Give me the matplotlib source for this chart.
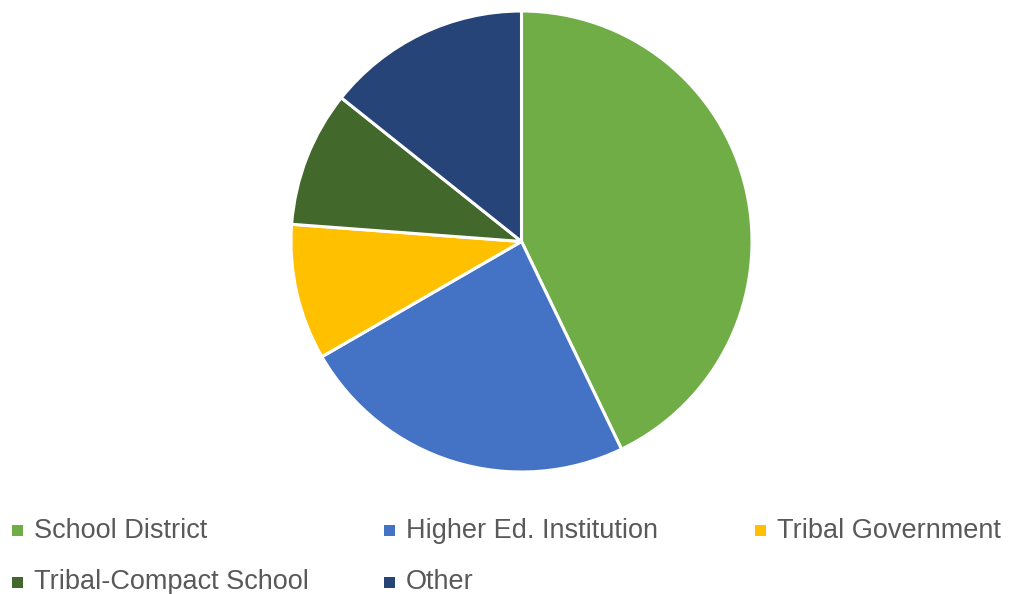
import matplotlib
matplotlib.use("Agg")
import matplotlib.pyplot as plt
from matplotlib.patches import Rectangle

categories = ["School District", "Higher Ed. Institution", "Tribal Government",
              "Tribal-Compact School", "Other"]
counts = [18, 10, 4, 4, 6]
colors = ["#70AD47", "#4472C4", "#FFC000", "#43682B", "#264478"]

plt.rcParams['font.family'] = ['Liberation Sans', 'DejaVu Sans']

fig = plt.figure(figsize=(10.11, 5.94), dpi=100)
W, H = 1011, 594

# pie box: centre (521, 242) px, radius 230 px
ax = fig.add_axes([291 / W, (H - 472) / H, 461 / W, 461 / H])
ax.pie(counts, colors=colors, startangle=90, counterclock=False, radius=1,
       wedgeprops=dict(edgecolor="white", linewidth=2.2))
ax.set_xlim(-1.0, 1.0)
ax.set_ylim(-1.0, 1.0)
ax.set_aspect("equal")
ax.axis("off")

# legend laid out in three columns below the pie
marker_x = [12, 384, 755]
text_x = [34, 406, 777]
row_y = [530.5, 582]
sq = 11
for i, (lab, col) in enumerate(zip(categories, colors)):
    r, c = divmod(i, 3)
    fig.add_artist(Rectangle((marker_x[c] / W, (H - row_y[r] - sq / 2) / H),
                             sq / W, sq / H, transform=fig.transFigure,
                             facecolor=col, edgecolor="none"))
    fig.text(text_x[c] / W, (H - row_y[r]) / H, lab, fontsize=19.5,
             color="#595959", va="center", ha="left")

fig.savefig("out.png", dpi=100)
